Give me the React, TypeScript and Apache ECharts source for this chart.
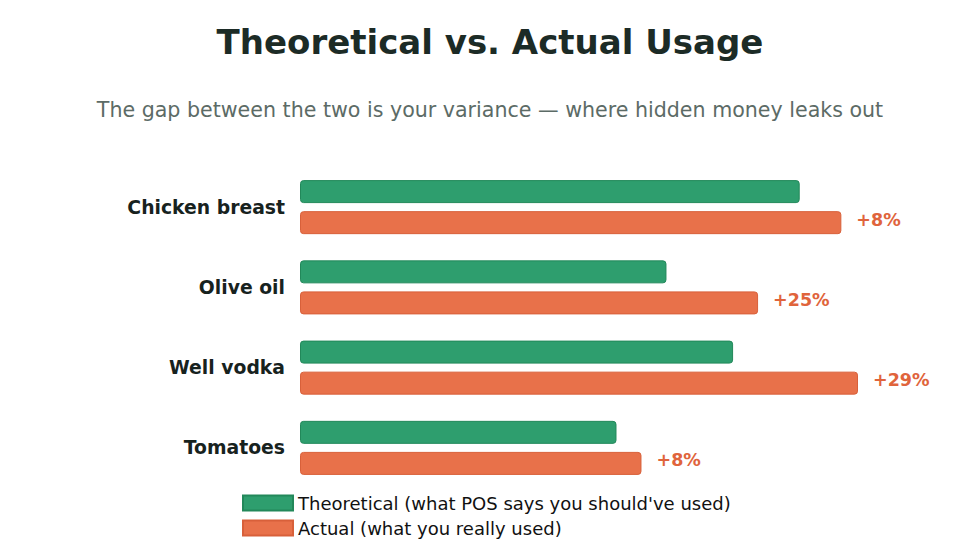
import React, { useEffect, useRef } from "react";
import * as echarts from "echarts";

const categories = ["Chicken breast", "Olive oil", "Well vodka", "Tomatoes"];
const theoretical = [120, 88, 104, 76];
const actual = [130, 110, 134, 82];
const seriesNames = [
  "Theoretical (what POS says you should've used)",
  "Actual (what you really used)",
];
const titleText = "Theoretical vs. Actual Usage";
const subtitleText =
  "The gap between the two is your variance \u2014 where hidden money leaks out";

const FONT = "DejaVu Sans";

export default function App() {
  const ref = useRef<HTMLDivElement>(null);
  useEffect(() => {
    if (!ref.current) return;
    const chart = echarts.init(ref.current, null, { renderer: "svg" });
    chart.setOption({
      animation: false,
      backgroundColor: "#ffffff",
      textStyle: { fontFamily: FONT },
      title: [
        {
          text: titleText,
          left: "center",
          top: 20,
          textStyle: {
            fontFamily: FONT,
            fontSize: 34,
            fontWeight: "bold",
            color: "#1c2b26",
          },
        },
        {
          text: subtitleText,
          left: "center",
          top: 94,
          textStyle: {
            fontFamily: FONT,
            fontSize: 20.6,
            fontWeight: "normal",
            color: "#5c6b66",
          },
        },
      ],
      legend: {
        orient: "vertical",
        left: 237,
        top: 489,
        itemWidth: 50,
        itemHeight: 15,
        itemGap: 7,
        icon: "rect",
        textStyle: {
          fontFamily: FONT,
          fontSize: 18,
          color: "#111111",
        },
        data: seriesNames,
      },
      grid: { left: 300, right: 97, top: 167, bottom: 69, containLabel: false },
      xAxis: {
        type: "value",
        min: 0,
        max: 140,
        show: false,
      },
      yAxis: {
        type: "category",
        inverse: true,
        data: categories,
        axisLine: { show: false },
        axisTick: { show: false },
        splitLine: { show: false },
        axisLabel: {
          margin: 15,
          fontFamily: FONT,
          fontSize: 18.8,
          fontWeight: "bold",
          color: "#17221e",
          verticalAlign: "middle",
          lineHeight: 18,
          padding: [0, 0, 4, 0],
        },
      },
      series: [
        {
          name: seriesNames[0],
          type: "bar",
          data: theoretical,
          barWidth: 23,
          barGap: "35%",
          itemStyle: {
            color: "#2e9e6e",
            borderColor: "#22885a",
            borderWidth: 1,
            borderRadius: 3,
          },
        },
        {
          name: seriesNames[1],
          type: "bar",
          data: actual,
          barWidth: 23,
          barGap: "35%",
          itemStyle: {
            color: "#e8714a",
            borderColor: "#d8603a",
            borderWidth: 1,
            borderRadius: 3,
          },
          label: {
            show: true,
            position: "right",
            distance: 15,
            offset: [0, -3],
            fontFamily: FONT,
            fontSize: 17.5,
            fontWeight: "bold",
            color: "#e0643c",
            formatter: (p: any) => {
              const t = theoretical[p.dataIndex];
              const pct = Math.round(((p.value - t) / t) * 100);
              return "+" + pct + "%";
            },
          },
        },
      ],
    });
    return () => chart.dispose();
  }, []);
  return (
    <div
      ref={ref}
      style={{ position: "fixed", left: 0, top: 0, width: 980, height: 557 }}
    />
  );
}
